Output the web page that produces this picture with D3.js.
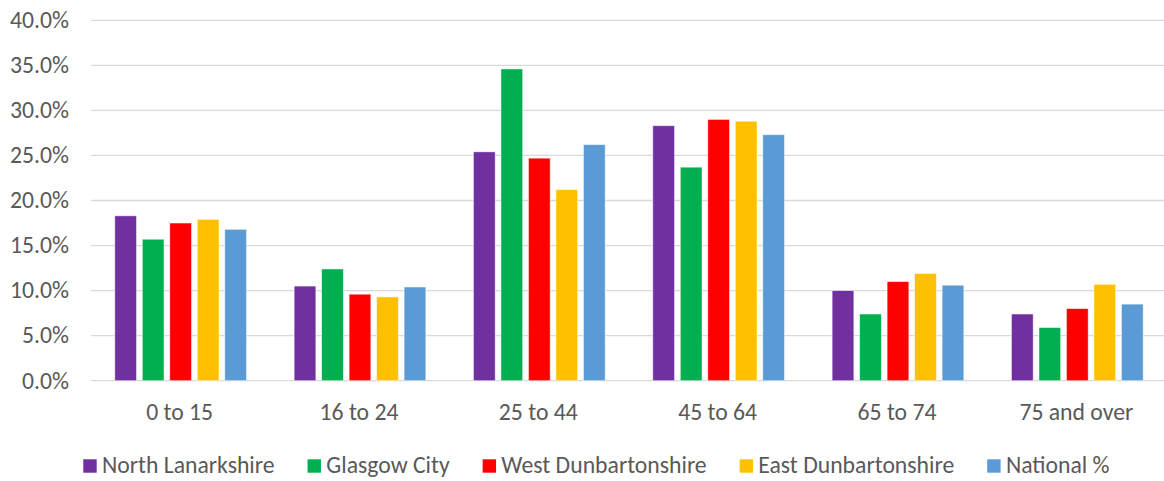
<!DOCTYPE html>
<html>
<head>
<meta charset="utf-8">
<script src="https://cdn.jsdelivr.net/npm/d3@7"></script>
<style>
  body { margin: 0; background: #fff; }
  text { font-family: Carlito, Calibri, Lato, sans-serif; fill: #595959; }
</style>
</head>
<body>
<div id="chart"></div>
<script>
const width = 1164;
const height = 481;

// data (percent)
const categories = ["0 to 15", "16 to 24", "25 to 44", "45 to 64", "65 to 74", "75 and over"];
const seriesNames = ["North Lanarkshire", "Glasgow City", "West Dunbartonshire", "East Dunbartonshire", "National %"];
const northLanarkshire = [18.3, 10.5, 25.4, 28.3, 10.0, 7.4];
const glasgowCity = [15.7, 12.4, 34.6, 23.7, 7.4, 5.9];
const westDunbartonshire = [17.5, 9.6, 24.7, 29.0, 11.0, 8.0];
const eastDunbartonshire = [17.9, 9.3, 21.2, 28.8, 11.9, 10.7];
const national = [16.8, 10.4, 26.2, 27.3, 10.6, 8.5];
const yTicks = [0, 5, 10, 15, 20, 25, 30, 35, 40];

const seriesValues = [northLanarkshire, glasgowCity, westDunbartonshire, eastDunbartonshire, national];
const colors = ["#7030A0", "#00B050", "#FF0000", "#FFC000", "#5B9BD5"];
const fontSize = "23.7px";

const svg = d3.select("#chart").append("svg")
  .attr("width", width)
  .attr("height", height);

const x0 = d3.scaleBand()
  .domain(categories)
  .range([91, 1167])
  .padding(0);

const x1 = d3.scaleBand()
  .domain(seriesNames)
  .range([23.8, 155.5])
  .paddingInner(0.21)
  .paddingOuter(0);

const y = d3.scaleLinear()
  .domain([0, 40])
  .range([380.7, 20.3]);

const color = d3.scaleOrdinal(seriesNames, colors);

// gridlines
svg.append("g")
  .selectAll("line")
  .data(yTicks)
  .enter()
  .append("line")
  .attr("x1", 91)
  .attr("x2", width)
  .attr("y1", d => y(d))
  .attr("y2", d => y(d))
  .attr("stroke", "#D9D9D9")
  .attr("stroke-width", 1.3);

// y tick labels
svg.append("g")
  .selectAll("text")
  .data(yTicks)
  .enter()
  .append("text")
  .attr("x", 69)
  .attr("y", d => y(d))
  .attr("dy", "0.33em")
  .attr("text-anchor", "end")
  .attr("font-size", fontSize)
  .text(d => d.toFixed(1) + "%");

// bars
const groups = svg.append("g")
  .selectAll("g")
  .data(categories)
  .enter()
  .append("g")
  .attr("transform", d => "translate(" + x0(d) + ",0)");

groups.selectAll("rect")
  .data((c, i) => seriesNames.map((s, j) => ({ series: s, value: seriesValues[j][i] })))
  .enter()
  .append("rect")
  .attr("x", d => x1(d.series))
  .attr("y", d => y(d.value))
  .attr("width", x1.bandwidth())
  .attr("height", d => y(0) - y(d.value))
  .attr("fill", d => color(d.series))
  .attr("stroke", "rgba(255,255,255,0.6)")
  .attr("stroke-width", 0.8);

// x labels
svg.append("g")
  .selectAll("text")
  .data(categories)
  .enter()
  .append("text")
  .attr("x", d => x0(d) + x0.bandwidth() / 2 - 1)
  .attr("y", 420)
  .attr("text-anchor", "middle")
  .attr("font-size", fontSize)
  .text(d => d);

// legend
const legend = svg.append("g");
const items = legend.selectAll("g")
  .data(seriesNames)
  .enter()
  .append("g");

items.append("rect")
  .attr("width", 13.4)
  .attr("height", 13.4)
  .attr("y", 459.3)
  .attr("fill", d => color(d));

items.append("text")
  .attr("x", 18.7)
  .attr("y", 472.7)
  .attr("font-size", fontSize)
  .text(d => d);

let cursor = 0;
const offsets = [];
items.each(function() {
  offsets.push(cursor);
  const w = this.querySelector("text").getComputedTextLength();
  cursor += 18.7 + w + 33;
});
items.attr("transform", (d, i) => "translate(" + (83.3 + offsets[i]) + ",0)");
</script>
</body>
</html>
